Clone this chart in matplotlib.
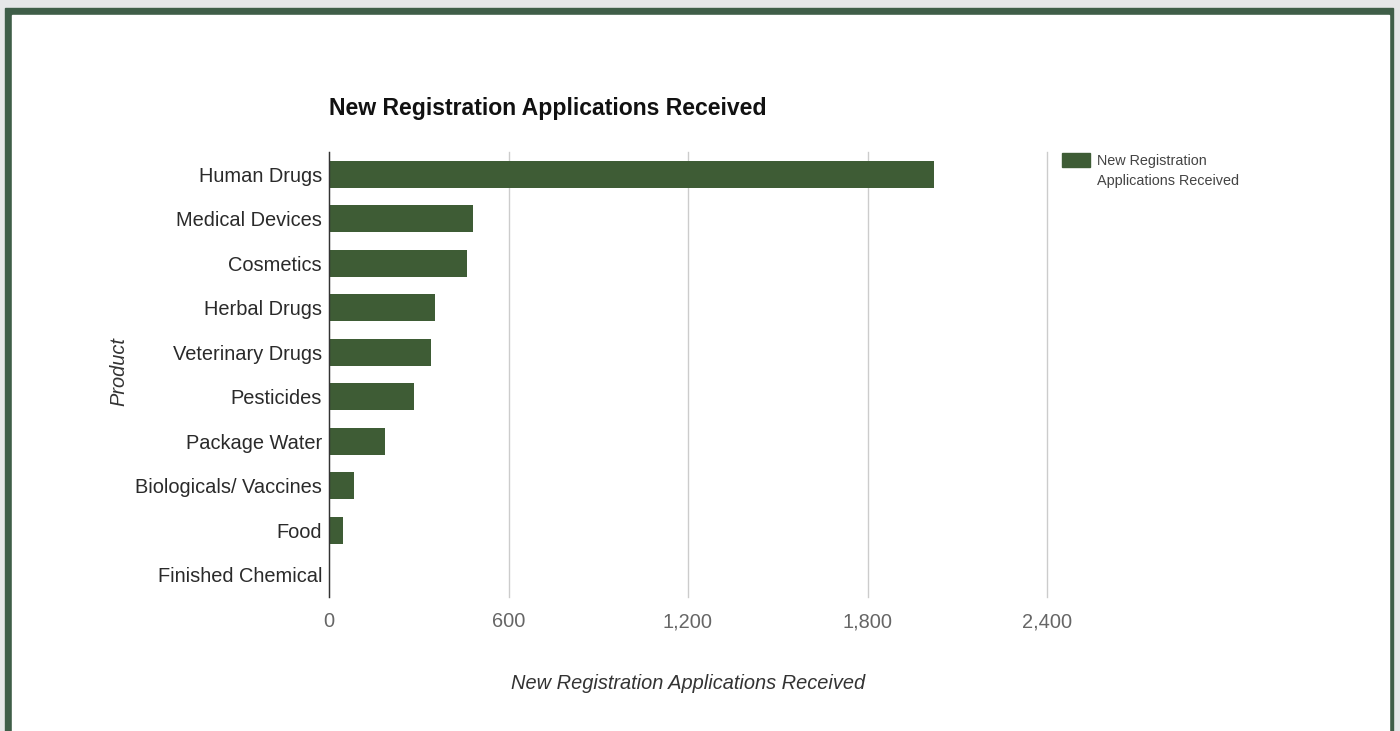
import matplotlib
matplotlib.use('Agg')
import matplotlib.pyplot as plt
from matplotlib.patches import Rectangle

plt.rcParams['font.family'] = ['Liberation Sans', 'DejaVu Sans']

# data
products = ['Human Drugs', 'Medical Devices', 'Cosmetics', 'Herbal Drugs',
            'Veterinary Drugs', 'Pesticides', 'Package Water',
            'Biologicals/ Vaccines', 'Food', 'Finished Chemical']
received = [2023, 480, 460, 353, 340, 283, 187, 83, 47, 0]
x_ticks = [0, 600, 1200, 1800, 2400]

W, H = 1400, 731
BAR = '#3e5c35'
FRAME = '#3f5e48'


def fx(px):
    return px / W


def fy(py):
    return 1 - py / H


fig = plt.figure(figsize=(W / 100, H / 100), dpi=100, facecolor='#e6e7e8')

# green frame with white card inside
fig.patches.append(Rectangle((fx(5), 0), fx(1393) - fx(5), fy(8),
                             transform=fig.transFigure, color=FRAME, zorder=-2))
fig.patches.append(Rectangle((fx(12), 0), fx(1389) - fx(12), fy(15),
                             transform=fig.transFigure, color='white', zorder=-1))

ax = fig.add_axes([fx(329), fy(597), fx(1047) - fx(329), fy(152) - fy(597)])
ax.set_facecolor('none')

ypos = list(range(len(products)))
ax.barh(ypos, received, height=0.6, color=BAR, zorder=2)

ax.set_ylim(len(products) - 0.5, -0.5)
ax.set_xlim(0, 2400)
ax.set_yticks(ypos)
ax.set_yticklabels(products, fontsize=14.4, color='#2a2a2a')
ax.set_xticks(x_ticks)
ax.set_xticklabels([f'{v:,}' for v in x_ticks], fontsize=14.4, color='#666666')
ax.tick_params(axis='both', length=0)
ax.tick_params(axis='y', pad=5)
ax.tick_params(axis='x', pad=11)

ax.grid(axis='x', color='#cccccc', linewidth=1, zorder=0)
for gl in ax.get_xgridlines():
    gl.set_clip_on(False)
for s in ['top', 'right', 'bottom']:
    ax.spines[s].set_visible(False)
ax.spines['left'].set_color('#333333')
ax.spines['left'].set_linewidth(1)
ax.spines['left'].set_zorder(3)

ax.set_xlabel('New Registration Applications Received', fontsize=14.4,
              style='italic', color='#333333', labelpad=31)
fig.text(fx(119), fy(372), 'Product', rotation=90, fontsize=14.4,
         style='italic', color='#333333', ha='center', va='center')

fig.text(fx(329), fy(109), 'New Registration Applications Received',
         fontsize=16.6, fontweight='bold', color='#111111', ha='left', va='center')

# legend
fig.patches.append(Rectangle((fx(1062), fy(167)), fx(1090) - fx(1062), fy(153) - fy(167),
                             transform=fig.transFigure, color=BAR))
fig.text(fx(1097), fy(161), 'New Registration', fontsize=10.4,
         color='#444444', ha='left', va='center')
fig.text(fx(1097), fy(181), 'Applications Received', fontsize=10.4,
         color='#444444', ha='left', va='center')

fig.savefig('out.png', dpi=100, facecolor=fig.get_facecolor())
